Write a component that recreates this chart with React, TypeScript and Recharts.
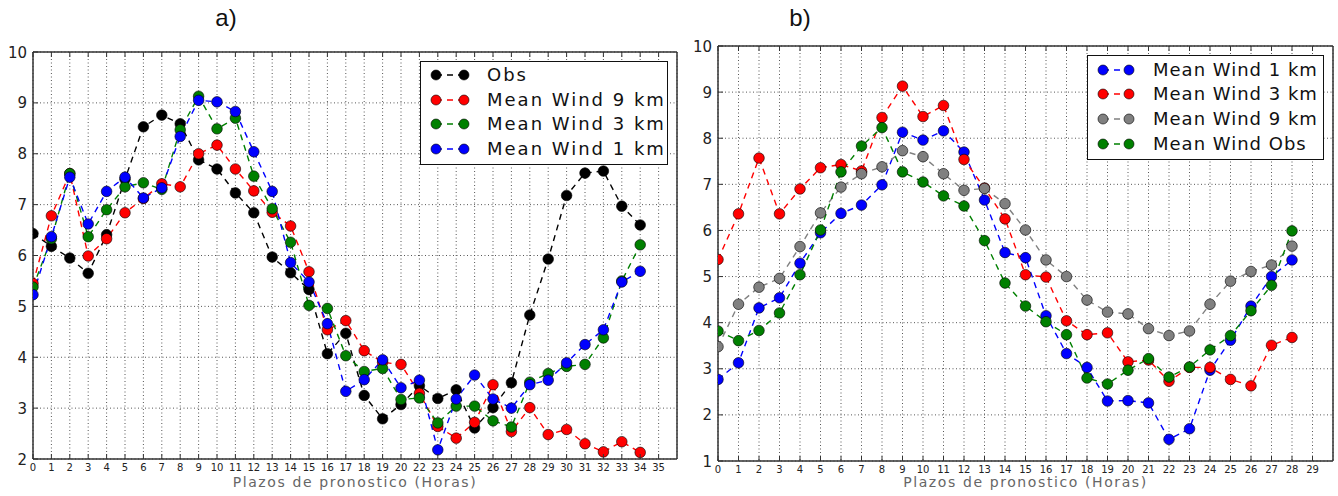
import React from 'react';
import { LineChart, Line, XAxis, YAxis, CartesianGrid, Legend, Label } from 'recharts';

// panel a) — hour labels skip 21 in the original figure
const hoursA = [
  '0', '1', '2', '3', '4', '5', '6', '7', '8', '9', '10', '11', '12', '13', '14', '15', '16', '17',
  '18', '19', '20', '22', '23', '24', '25', '26', '27', '28', '29', '30', '31', '32', '33', '34', '35',
];
const obsA = [
  6.43, 6.18, 5.95, 5.65, 6.41, 7.5, 8.53, 8.76, 8.59, 7.88, 7.7, 7.23, 6.84, 5.97, 5.66, 5.33, 4.07,
  4.47, 3.25, 2.79, 3.07, 3.44, 3.19, 3.36, 2.61, 3.01, 3.5, 4.83, 5.93, 7.18, 7.62, 7.66, 6.97, 6.6,
];
const wind9A = [
  5.45, 6.78, 7.61, 5.99, 6.33, 6.84, 7.12, 7.41, 7.35, 8.0, 8.17, 7.7, 7.27, 6.85, 6.58, 5.68, 4.54,
  4.72, 4.13, 3.9, 3.86, 3.29, 2.64, 2.41, 2.72, 3.46, 2.54, 3.01, 2.48, 2.58, 2.3, 2.14, 2.34, 2.13,
];
const wind3A = [
  5.38, 6.33, 7.61, 6.37, 6.9, 7.35, 7.43, 7.3, 8.47, 9.13, 8.49, 8.7, 7.56, 6.92, 6.26, 5.02, 4.96,
  4.03, 3.72, 3.78, 3.17, 3.2, 2.71, 3.04, 3.04, 2.75, 2.63, 3.51, 3.68, 3.82, 3.86, 4.38, 5.5, 6.21,
];
const wind1A = [
  5.23, 6.37, 7.54, 6.62, 7.26, 7.54, 7.13, 7.33, 8.34, 9.05, 9.02, 8.83, 8.04, 7.26, 5.86, 5.48, 4.66,
  3.33, 3.56, 3.95, 3.4, 3.55, 2.18, 3.18, 3.65, 3.18, 3.0, 3.46, 3.55, 3.89, 4.25, 4.54, 5.48, 5.69,
];
const yTicksA = [2, 3, 4, 5, 6, 7, 8, 9, 10];

// panel b)
const hoursB = [
  '0', '1', '2', '3', '4', '5', '6', '7', '8', '9', '10', '11', '12', '13', '14', '15', '16', '17',
  '18', '19', '20', '21', '22', '23', '24', '25', '26', '27', '28', '29',
];
const wind1B = [
  2.77, 3.13, 4.32, 4.54, 5.29, 5.95, 6.37, 6.55, 6.99, 8.13, 7.96, 8.16, 7.7, 6.66, 5.52,
  5.41, 4.15, 3.33, 3.03, 2.3, 2.31, 2.26, 1.47, 1.7, 2.97, 3.62, 4.36, 5.0, 5.36,
];
const wind3B = [
  5.37, 6.36, 7.57, 6.36, 6.9, 7.36, 7.43, 7.29, 8.45, 9.13, 8.47, 8.71, 7.54, 6.92, 6.25,
  5.04, 4.99, 4.04, 3.74, 3.78, 3.15, 3.19, 2.73, 3.03, 3.03, 2.77, 2.63, 3.51, 3.68,
];
const wind9B = [
  3.48, 4.4, 4.77, 4.96, 5.65, 6.38, 6.94, 7.23, 7.38, 7.73, 7.6, 7.23, 6.87, 6.91, 6.58,
  6.01, 5.36, 5.0, 4.49, 4.23, 4.19, 3.87, 3.72, 3.82, 4.4, 4.9, 5.11, 5.25, 5.66,
];
const obsB = [
  3.82, 3.61, 3.83, 4.21, 5.04, 6.01, 7.27, 7.83, 8.23, 7.27, 7.05, 6.75, 6.53, 5.78, 4.86,
  4.36, 4.02, 3.74, 2.8, 2.67, 2.97, 3.22, 2.82, 3.04, 3.41, 3.72, 4.26, 4.81, 5.99,
];
const yTicksB = [1, 2, 3, 4, 5, 6, 7, 8, 9, 10];

const FONT = '"DejaVu Sans", sans-serif';
const FRAME = { stroke: '#333', strokeWidth: 1.5 };

type Series = { key: string; name: string; color: string; values: number[] };

const seriesA: Series[] = [
  { key: 'obs', name: 'Obs', color: '#000000', values: obsA },
  { key: 'w9', name: 'Mean Wind 9 km', color: '#ff0000', values: wind9A },
  { key: 'w3', name: 'Mean Wind 3 km', color: '#008000', values: wind3A },
  { key: 'w1', name: 'Mean Wind 1 km', color: '#0000ff', values: wind1A },
];
const seriesB: Series[] = [
  { key: 'w1', name: 'Mean Wind 1 km', color: '#0000ff', values: wind1B },
  { key: 'w3', name: 'Mean Wind 3 km', color: '#ff0000', values: wind3B },
  { key: 'w9', name: 'Mean Wind 9 km', color: '#808080', values: wind9B },
  { key: 'obs', name: 'Mean Wind Obs', color: '#008000', values: obsB },
];

const BottomTick = (props: any) => {
  const { x, y, payload, labels } = props;
  return (
    <g>
      <line x1={x} y1={y} x2={x} y2={y - 5} stroke="#333" />
      <text x={x} y={y + 12} textAnchor="middle" fontSize={10} fill="#222" fontFamily={FONT}>
        {labels[payload.value]}
      </text>
    </g>
  );
};
const TopTick = (props: any) => <line x1={props.x} y1={props.y} x2={props.x} y2={props.y + 5} stroke="#333" />;
const LeftTick = (props: any) => {
  const { x, y, payload } = props;
  return (
    <g>
      <line x1={x} y1={y} x2={x + 5} y2={y} stroke="#333" />
      <text x={x - 6} y={y + 5.5} textAnchor="end" fontSize={15} fill="#222" fontFamily={FONT}>
        {payload.value}
      </text>
    </g>
  );
};
const RightTick = (props: any) => <line x1={props.x} y1={props.y} x2={props.x - 5} y2={props.y} stroke="#333" />;

type LegendCfg = {
  left: number; top: number; width: number; height: number;
  rows: number[]; m1: number; m2: number; textX: number; spacing: number;
};

function LegendBox({ series, cfg }: { series: Series[]; cfg: LegendCfg }) {
  return (
    <div style={{ position: 'relative', width: cfg.width, height: cfg.height, border: '1.5px solid #111', background: '#fff', boxSizing: 'border-box', fontFamily: FONT }}>
      {series.map((s, i) => (
        <div key={s.key} style={{ position: 'absolute', left: 0, top: cfg.rows[i] - 13, height: 26, width: '100%' }}>
          <svg width={60} height={26} style={{ position: 'absolute', left: 0, top: 0 }}>
            <line x1={cfg.m1} y1={13} x2={cfg.m2} y2={13} stroke={s.color} strokeWidth={1.4} strokeDasharray="6 5" />
            <circle cx={cfg.m1} cy={13} r={5} fill={s.color} stroke="#000" strokeWidth={0.6} />
            <circle cx={cfg.m2} cy={13} r={5} fill={s.color} stroke="#000" strokeWidth={0.6} />
          </svg>
          <span style={{ position: 'absolute', left: cfg.textX, top: 1, fontSize: 18, lineHeight: '24px', letterSpacing: cfg.spacing, color: '#111', whiteSpace: 'nowrap' }}>
            {s.name}
          </span>
        </div>
      ))}
    </div>
  );
}

type PanelProps = {
  left: number; width: number; plotTop: number; axisW: number; axisH: number; rightPad: number;
  series: Series[]; labels: string[]; xMax: number; yTicks: number[]; legend: LegendCfg;
};

function Panel(p: PanelProps) {
  const rows = p.series[0].values.map((_, i) => {
    const r: Record<string, number> = { x: i };
    p.series.forEach((s) => { r[s.key] = s.values[i]; });
    return r;
  });
  const xTicks = p.labels.map((_, i) => i);
  const yDomain = [p.yTicks[0], p.yTicks[p.yTicks.length - 1]];
  return (
    <div style={{ position: 'absolute', left: p.left, top: 0 }}>
      <LineChart width={p.width} height={496} data={rows} margin={{ top: p.plotTop - 1, right: p.rightPad - 1, bottom: 0, left: 0 }}>
        <CartesianGrid stroke="#444" strokeDasharray="1 2.5" strokeWidth={0.9} />
        {p.series.map((s) => (
          <Line
            key={s.key}
            dataKey={s.key}
            name={s.name}
            type="linear"
            stroke={s.color}
            strokeWidth={1.4}
            strokeDasharray="6 5"
            isAnimationActive={false}
            dot={(d: any) => (
              <circle key={`${s.key}-${d.index}`} cx={d.cx} cy={d.cy} r={5.3} fill={s.color} stroke="#000" strokeWidth={0.6} />
            )}
            activeDot={false}
          />
        ))}
        <XAxis
          dataKey="x" type="number" domain={[0, p.xMax]} ticks={xTicks} interval={0} allowDataOverflow
          height={p.axisH} tickSize={0} tickMargin={0} tickLine={false} axisLine={FRAME}
          tick={(tp: any) => <BottomTick {...tp} labels={p.labels} />}
        >
          <Label
            position="insideBottom"
            content={(lp: any) => {
              const vb = lp.viewBox;
              return (
                <text x={vb.x + vb.width / 2} y={vb.y + vb.height - 9} textAnchor="middle" fontSize={14} letterSpacing={1.6} fill="#666" fontFamily={FONT}>
                  Plazos de pronostico (Horas)
                </text>
              );
            }}
          />
        </XAxis>
        <XAxis
          xAxisId="top" orientation="top" dataKey="x" type="number" domain={[0, p.xMax]} ticks={xTicks} interval={0}
          height={1} tickSize={0} tickMargin={0} tickLine={false} axisLine={FRAME} tick={(tp: any) => <TopTick {...tp} />}
        />
        <YAxis
          type="number" domain={yDomain} ticks={p.yTicks} interval={0} width={p.axisW}
          tickSize={0} tickMargin={0} tickLine={false} axisLine={FRAME} tick={(tp: any) => <LeftTick {...tp} />}
        />
        <YAxis
          yAxisId="r" orientation="right" type="number" domain={yDomain} ticks={p.yTicks} interval={0} width={1}
          tickSize={0} tickMargin={0} tickLine={false} axisLine={FRAME} tick={(tp: any) => <RightTick {...tp} />}
        />
        <Legend
          layout="vertical" align="center" verticalAlign="middle"
          wrapperStyle={{ left: p.legend.left, top: p.legend.top, width: p.legend.width, height: p.legend.height }}
          content={() => <LegendBox series={p.series} cfg={p.legend} />}
        />
      </LineChart>
    </div>
  );
}

export default function App() {
  return (
    <div style={{ position: 'absolute', left: 0, top: 0, width: 1338, height: 496, background: '#fff', overflow: 'hidden' }}>
      <div style={{ position: 'absolute', left: 196, top: 4, width: 60, textAlign: 'center', fontFamily: '"Liberation Sans", Arial, sans-serif', fontSize: 24, color: '#111' }}>a)</div>
      <div style={{ position: 'absolute', left: 770, top: 4, width: 60, textAlign: 'center', fontFamily: '"Liberation Sans", Arial, sans-serif', fontSize: 24, color: '#111' }}>b)</div>
      <Panel
        left={0} width={680} plotTop={52} axisW={33} axisH={37} rightPad={3}
        series={seriesA} labels={hoursA} xMax={35} yTicks={yTicksA}
        legend={{ left: 420, top: 61, width: 248, height: 104, rows: [13, 38, 62, 87], m1: 15, m2: 43, textX: 66, spacing: 2.0 }}
      />
      <Panel
        left={680} width={658} plotTop={46} axisW={38} axisH={35} rightPad={5}
        series={seriesB} labels={hoursB} xMax={30} yTicks={yTicksB}
        legend={{ left: 407, top: 55, width: 237, height: 105, rows: [14, 38, 63, 88], m1: 15, m2: 41, textX: 65, spacing: 1.0 }}
      />
    </div>
  );
}
